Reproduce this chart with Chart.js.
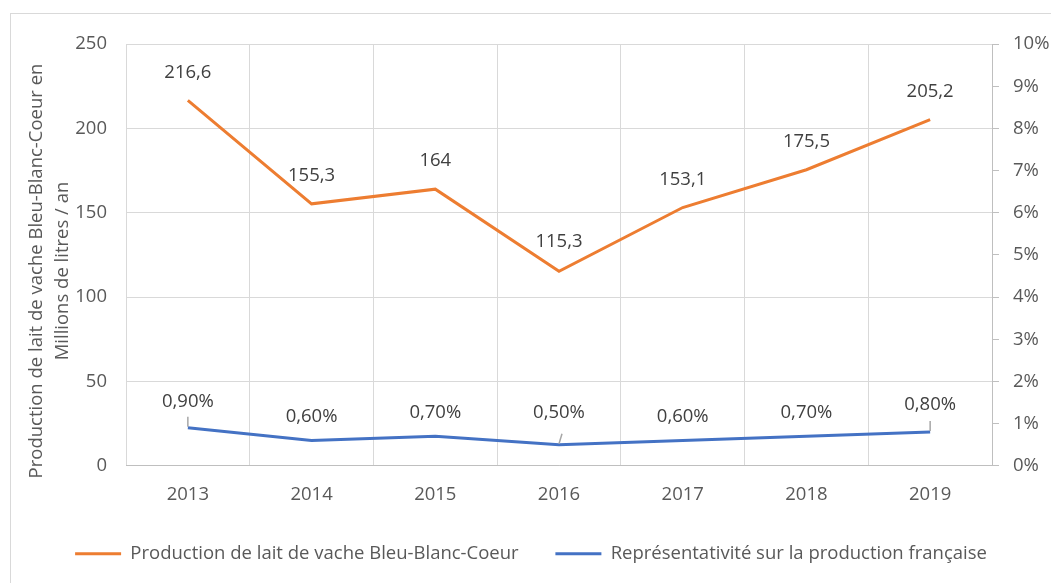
<!DOCTYPE html>
<html lang="fr">
<head>
<meta charset="UTF-8">
<title>Production de lait de vache Bleu-Blanc-Coeur</title>
<script src="https://cdn.jsdelivr.net/npm/chart.js"></script>
<style>
  html, body { margin: 0; padding: 0; background: #fff; overflow: hidden; }
  #frame { position: absolute; left: 10px; top: 13px; width: 1040px; height: 600px; border: 1px solid #d9d9d9; }
  canvas { display: block; }
</style>
</head>
<body>
<div id="frame"><canvas id="chart" width="1040" height="559"></canvas></div>
<script>
// categories and series
const years = ["2013", "2014", "2015", "2016", "2017", "2018", "2019"];
const production = [216.6, 155.3, 164, 115.3, 153.1, 175.5, 205.2];   // millions de litres / an
const share = [0.9, 0.6, 0.7, 0.5, 0.6, 0.7, 0.8];                   // % de la production française

const productionName = "Production de lait de vache Bleu-Blanc-Coeur";
const shareName = "Représentativité sur la production française";
const yTitle = ["Production de lait de vache Bleu-Blanc-Coeur en", "Millions de litres / an"];

const ORANGE = "#ed7d31";
const BLUE = "#4472c4";
const FONT = '"Open Sans", sans-serif';
const SIZE = 18.5;

Chart.defaults.font.family = FONT;
Chart.defaults.font.size = SIZE;
Chart.defaults.color = "#595959";

// how far each label sits above its point (Excel moved a few by hand)
const liftProduction = [28, 28, 28, 30, 28, 28, 28];
const liftShare = [26, 24, 24, 32, 24, 24, 27];
const leaderShare = [0, 3, 6];

const valueLabels = {
  id: "valueLabels",
  afterDatasetsDraw(chart) {
    const ctx = chart.ctx;
    ctx.save();
    // leader lines for the moved labels
    const blue = chart.getDatasetMeta(1).data;
    ctx.strokeStyle = "#a6a6a6";
    ctx.lineWidth = 1.5;
    leaderShare.forEach(i => {
      const p = blue[i];
      const dx = i === 3 ? 3 : 0;
      ctx.beginPath();
      ctx.moveTo(p.x, p.y - 1);
      ctx.lineTo(p.x + dx, p.y - 11);
      ctx.stroke();
    });
    ctx.font = SIZE + "px " + FONT;
    ctx.fillStyle = "#404040";
    ctx.textAlign = "center";
    ctx.textBaseline = "middle";
    chart.getDatasetMeta(0).data.forEach((p, i) => {
      ctx.fillText(production[i].toLocaleString("fr-FR"), p.x, p.y - liftProduction[i]);
    });
    blue.forEach((p, i) => {
      ctx.fillText(share[i].toFixed(2).replace(".", ",") + "%", p.x, p.y - liftShare[i]);
    });
    ctx.restore();
  }
};

// rotated two-line title of the left axis
const leftTitle = {
  id: "leftTitle",
  afterDraw(chart) {
    const ctx = chart.ctx;
    ctx.save();
    ctx.font = SIZE + "px " + FONT;
    ctx.fillStyle = "#595959";
    ctx.textAlign = "center";
    ctx.textBaseline = "middle";
    ctx.translate(26, 257);
    ctx.rotate(-Math.PI / 2);
    ctx.fillText(yTitle[0], 0, 0);
    ctx.fillText(yTitle[1], 0, 26);
    ctx.restore();
  }
};

new Chart(document.getElementById("chart"), {
  type: "line",
  data: {
    labels: years,
    datasets: [
      {
        label: productionName,
        data: production,
        yAxisID: "y",
        borderColor: ORANGE,
        backgroundColor: ORANGE,
        borderWidth: 3,
        pointRadius: 0,
        tension: 0
      },
      {
        label: shareName,
        data: share,
        yAxisID: "y1",
        borderColor: BLUE,
        backgroundColor: BLUE,
        borderWidth: 3,
        pointRadius: 0,
        tension: 0
      }
    ]
  },
  options: {
    responsive: false,
    animation: false,
    devicePixelRatio: 1,
    layout: { padding: { top: 29, left: 0, right: 0, bottom: 0 } },
    plugins: {
      tooltip: { enabled: false },
      legend: {
        position: "bottom",
        labels: {
          usePointStyle: true,
          pointStyle: "line",
          pointStyleWidth: 46,
          padding: 36.75,
          color: "#595959",
          font: { size: SIZE }
        }
      }
    },
    scales: {
      x: {
        offset: true,
        grid: { color: "#d9d9d9", drawTicks: false, offset: true },
        border: { color: "#bfbfbf" },
        ticks: { padding: 18 },
        afterFit(s) { s.height = 42; }
      },
      y: {
        position: "left",
        min: 0,
        max: 250,
        ticks: { stepSize: 50, padding: 19 },
        grid: { color: "#d9d9d9", drawTicks: false },
        border: { display: false },
        afterFit(s) { s.width = 115; }
      },
      y1: {
        position: "right",
        min: 0,
        max: 10,
        ticks: { stepSize: 1, padding: 14, callback: v => v + "%" },
        grid: { drawOnChartArea: false, tickLength: 7, color: "#bfbfbf" },
        border: { color: "#bfbfbf" },
        afterFit(s) { s.width = 59; }
      }
    }
  },
  plugins: [valueLabels, leftTitle]
});
</script>
</body>
</html>
